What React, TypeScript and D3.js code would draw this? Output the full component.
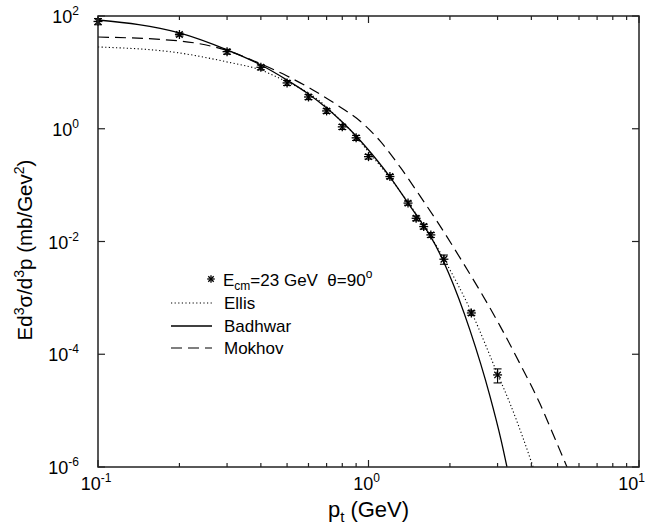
import React from 'react';
import * as d3 from 'd3';

// ---- data ----
const ptData = [0.1, 0.2, 0.3, 0.4, 0.5, 0.6, 0.7, 0.8, 0.9, 1.0, 1.2, 1.4, 1.5, 1.6, 1.7, 1.9, 2.4, 3.0];
const sigmaData = [80, 47, 23.3, 12.3, 6.5, 3.66, 2.07, 1.08, 0.69, 0.32, 0.142, 0.048, 0.0258, 0.0184, 0.0131, 0.00485, 5.4e-4, 4.3e-5];
const sigmaErr = [10, 3, 2.3, 1.2, 0.65, 0.37, 0.2, 0.11, 0.07, 0.03, 0.012, 0.004, 0.0025, 0.0018, 0.0013, 0.0009, 5e-5, 1.2e-5];

const ellisPt = [0.1, 0.2, 0.3, 0.4, 0.5, 0.6, 0.7, 0.785, 0.876, 1.0, 1.2, 1.42, 1.69, 1.9, 2.41, 3.01, 3.34, 3.69, 4.06];
const ellisVal = [28.2, 22.1, 15.3, 11.0, 6.76, 4.31, 2.44, 1.43, 0.843, 0.39, 0.135, 0.045, 0.0128, 0.0049, 5.4e-4, 4.3e-5, 1.32e-5, 3.72e-6, 1e-6];

const badhwarPt = [0.1, 0.2, 0.3, 0.4, 0.5, 0.6, 0.7, 0.8, 0.9, 1.0, 1.2, 1.4, 1.6, 1.7, 1.97, 2.37, 2.81, 3.09, 3.25];
const badhwarVal = [85, 50, 25, 13.5, 7.3, 4.14, 2.34, 1.32, 0.745, 0.42, 0.14, 0.048, 0.019, 0.0121, 0.00289, 2.71e-4, 1.83e-5, 3.03e-6, 1e-6];

const mokhovPt = [0.1, 0.2, 0.3, 0.4, 0.5, 0.623, 0.785, 0.93, 1.103, 1.308, 1.55, 1.838, 2.18, 2.584, 3.063, 3.632, 4.306, 4.893, 5.418];
const mokhovVal = [42.4, 36.1, 24.4, 14.1, 8.63, 4.87, 2.44, 1.37, 0.608, 0.21, 0.0644, 0.0189, 0.00512, 0.00133, 3.19e-4, 6.76e-5, 1.32e-5, 3.16e-6, 1e-6];

const xMajorTicks = [0.1, 1, 10];
const xMajorExp = ['-1', '0', '1'];
const xMinorTicks = [0.2, 0.3, 0.4, 0.5, 0.6, 0.7, 0.8, 0.9, 2, 3, 4, 5, 6, 7, 8, 9];
const yMajorTicks = [1e2, 1, 1e-2, 1e-4, 1e-6];
const yMajorExp = ['2', '0', '-2', '-4', '-6'];

const legendLabels = ['Ellis', 'Badhwar', 'Mokhov'];

const FONT = 'Liberation Sans, Arial, Helvetica, sans-serif';
const L = 98, R = 639, T = 16, B = 467;

function Star({ cx, cy, r }: { cx: number; cy: number; r: number }) {
  const d = r * 0.72;
  return (
    <g stroke="#000" strokeWidth={1.3}>
      <line x1={cx - r} y1={cy} x2={cx + r} y2={cy} />
      <line x1={cx} y1={cy - r} x2={cx} y2={cy + r} />
      <line x1={cx - d} y1={cy - d} x2={cx + d} y2={cy + d} />
      <line x1={cx - d} y1={cy + d} x2={cx + d} y2={cy - d} />
    </g>
  );
}

export default function App() {
  const x = d3.scaleLog().domain([0.1, 10]).range([L, R]);
  const y = d3.scaleLog().domain([1e-6, 1e2]).range([B, T]);
  const line = d3
    .line<[number, number]>()
    .x((d) => x(d[0]))
    .y((d) => y(d[1]))
    .curve(d3.curveMonotoneX);

  const ellis = line(ellisPt.map((p, i) => [p, ellisVal[i]] as [number, number])) || '';
  const badhwar = line(badhwarPt.map((p, i) => [p, badhwarVal[i]] as [number, number])) || '';
  const mokhov = line(mokhovPt.map((p, i) => [p, mokhovVal[i]] as [number, number])) || '';

  const styles = [
    { dash: '1.2,2.4', w: 1.1 },
    { dash: undefined, w: 1.3 },
    { dash: '11,6', w: 1.2 },
  ];
  const legendY = [303, 326, 348];

  return (
    <svg width={647} height={529} style={{ position: 'absolute', left: 0, top: 0, background: '#fff' }} fontFamily={FONT}>
      <rect x={0} y={0} width={647} height={529} fill="#fff" />
      <defs>
        <clipPath id="plotclip">
          <rect x={L} y={T} width={R - L} height={B - T} />
        </clipPath>
      </defs>

      {/* curves */}
      <g clipPath="url(#plotclip)" fill="none" stroke="#000">
        <path d={ellis} strokeWidth={styles[0].w} strokeDasharray={styles[0].dash} />
        <path d={badhwar} strokeWidth={styles[1].w} />
        <path d={mokhov} strokeWidth={styles[2].w} strokeDasharray={styles[2].dash} />
      </g>

      {/* data points with error bars */}
      <g>
        {ptData.map((p, i) => {
          const cx = x(p);
          const y1 = y(sigmaData[i] + sigmaErr[i]);
          const y2 = y(Math.max(sigmaData[i] - sigmaErr[i], 1e-9));
          return (
            <g key={i}>
              <g stroke="#000" strokeWidth={1.1}>
                <line x1={cx} y1={y1} x2={cx} y2={y2} />
                <line x1={cx - 4} y1={y1} x2={cx + 4} y2={y1} />
                <line x1={cx - 4} y1={y2} x2={cx + 4} y2={y2} />
              </g>
              <Star cx={cx} cy={y(sigmaData[i])} r={4.5} />
            </g>
          );
        })}
      </g>

      {/* frame */}
      <rect x={L} y={T} width={R - L} height={B - T} fill="none" stroke="#222" strokeWidth={1.5} />

      {/* ticks */}
      <g stroke="#222" strokeWidth={1.2}>
        {xMajorTicks.map((t, i) => (
          <g key={'xM' + i}>
            <line x1={x(t)} y1={B} x2={x(t)} y2={B - 7} />
            <line x1={x(t)} y1={T} x2={x(t)} y2={T + 7} />
          </g>
        ))}
        {xMinorTicks.map((t, i) => (
          <g key={'xm' + i}>
            <line x1={x(t)} y1={B} x2={x(t)} y2={B - 4} />
            <line x1={x(t)} y1={T} x2={x(t)} y2={T + 4} />
          </g>
        ))}
        {yMajorTicks.map((t, i) => (
          <g key={'yM' + i}>
            <line x1={L} y1={y(t)} x2={L + 7} y2={y(t)} />
            <line x1={R} y1={y(t)} x2={R - 7} y2={y(t)} />
          </g>
        ))}
      </g>

      {/* tick labels */}
      <g fill="#000" fontSize={18}>
        {yMajorTicks.map((t, i) => (
          <text key={'yl' + i} x={79} y={y(t) + 7} textAnchor="end">
            10
            <tspan dy={-8} fontSize={12}>{yMajorExp[i]}</tspan>
          </text>
        ))}
        {xMajorTicks.map((t, i) => {
          const last = i === xMajorTicks.length - 1;
          return (
            <text
              key={'xl' + i}
              x={last ? 645 : x(t) - 2}
              y={490}
              textAnchor={last ? 'end' : 'middle'}
            >
              10
              <tspan dy={-8} fontSize={12}>{xMajorExp[i]}</tspan>
            </text>
          );
        })}
      </g>

      {/* axis titles */}
      <text x={L + (R - L) / 2} y={517} textAnchor="middle" fontSize={22} fill="#000">
        p<tspan dy={5} fontSize={15}>t</tspan>
        <tspan dy={-5}> (GeV)</tspan>
      </text>
      <text transform={`translate(32,250) rotate(-90)`} textAnchor="middle" fontSize={20.5} fill="#000">
        Ed<tspan dy={-8} fontSize={14}>3</tspan>
        <tspan dy={8}>σ/d</tspan>
        <tspan dy={-8} fontSize={14}>3</tspan>
        <tspan dy={8}>p (mb/Gev</tspan>
        <tspan dy={-8} fontSize={14}>2</tspan>
        <tspan dy={8}>)</tspan>
      </text>

      {/* legend */}
      <g fontSize={17} fill="#000">
        <Star cx={211} cy={279} r={3.8} />
        <text x={223} y={286}>
          E<tspan dy={4} fontSize={12}>cm</tspan>
          <tspan dy={-4}>{'=23 GeV\u00a0\u00a0θ=90'}</tspan>
          <tspan dy={-8} fontSize={12}>o</tspan>
        </text>
        {legendLabels.map((lab, i) => (
          <g key={lab}>
            <line
              x1={171}
              x2={212}
              y1={legendY[i]}
              y2={legendY[i]}
              stroke="#000"
              strokeWidth={styles[i].w}
              strokeDasharray={styles[i].dash}
            />
            <text x={224} y={legendY[i] + 6}>{lab}</text>
          </g>
        ))}
      </g>
    </svg>
  );
}
